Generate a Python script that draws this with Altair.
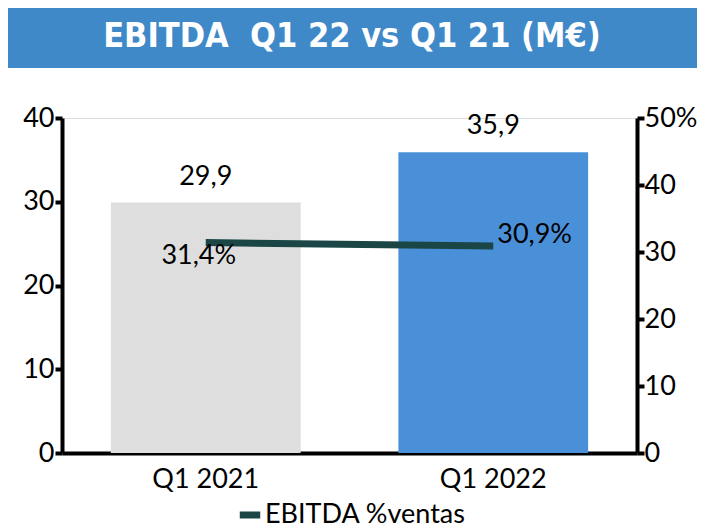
import altair as alt
import pandas as pd

categories = ["Q1 2021", "Q1 2022"]
ebitda = [29.9, 35.9]
margin_pct = [31.4, 30.9]
bar_colors = ["#DEDEDE", "#4A90D9"]
series_name = "EBITDA %ventas"
title_text = "EBITDA\u00a0 Q1 22 vs Q1 21 (M€)"

df = pd.DataFrame({
    "cat": categories,
    "val": ebitda,
    "pct": margin_pct,
    "color": bar_colors,
    "series": [series_name] * len(categories),
})

FONT = "Lato"
FS = 27
x = alt.X("cat:N", sort=categories, title=None,
          scale=alt.Scale(paddingInner=0.34, paddingOuter=0.17),
          axis=alt.Axis(labelAngle=0, labelFontSize=FS, labelColor="black", labelFont=FONT,
                        ticks=False, domainColor="black", domainWidth=4, labelPadding=13))

base = alt.Chart(df)

bars = base.mark_bar().encode(
    x=x,
    y=alt.Y("val:Q", title=None, scale=alt.Scale(domain=[0, 40]),
            axis=alt.Axis(values=[0, 10, 20, 30, 40], grid=False, domainColor="black", domainWidth=4,
                          tickColor="black", tickWidth=4, tickSize=7, labelFontSize=FS,
                          labelColor="black", labelFont=FONT, labelPadding=1)),
    color=alt.Color("color:N", scale=None),
)

bar_labels = base.mark_text(baseline="bottom", dy=-12, fontSize=FS, font=FONT, color="black").transform_calculate(
    lbl="replace(format(datum.val, '.1f'), '.', ',')"
).encode(x=x, y=alt.Y("val:Q"), text="lbl:N")

left = alt.layer(bars, bar_labels)

yr = alt.Y("pct:Q", title=None, scale=alt.Scale(domain=[0, 50]),
           axis=alt.Axis(orient="right", values=[0, 10, 20, 30, 40, 50], grid=False,
                         domainColor="black", domainWidth=4, tickColor="black", tickWidth=4,
                         tickSize=7, labelFontSize=FS, labelColor="black", labelFont=FONT,
                         labelPadding=0, labelExpr="datum.value == 50 ? '50%' : datum.label"))

line = base.mark_line(strokeWidth=7).encode(
    x=x, y=yr,
    color=alt.Color("series:N", scale=alt.Scale(range=["#1A4646"]),
                    legend=alt.Legend(title=None, orient="none", legendX=174, legendY=383,
                                      labelFontSize=FS, labelFont=FONT, labelColor="black",
                                      labelLimit=500, symbolType="stroke", symbolStrokeWidth=7,
                                      symbolSize=420, labelOffset=1)),
)

pct_lbl = "replace(format(datum.pct, '.1f'), '.', ',') + '%'"
lab1 = base.transform_filter(alt.datum.cat == categories[0]).transform_calculate(lbl=pct_lbl).mark_text(
    dx=-7, dy=13, fontSize=FS, font=FONT, color="black").encode(x=x, y=alt.Y("pct:Q"), text="lbl:N")
lab2 = base.transform_filter(alt.datum.cat == categories[1]).transform_calculate(lbl=pct_lbl).mark_text(
    align="left", dx=4, dy=-11, fontSize=FS, font=FONT, color="black").encode(x=x, y=alt.Y("pct:Q"), text="lbl:N")

right = alt.layer(line, lab1, lab2)

title_bg = alt.Chart(pd.DataFrame({"t": [title_text]})).mark_rect(color="#3F89C9").encode(
    x=alt.value(-56), x2=alt.value(635), y=alt.value(-114), y2=alt.value(-50))
title_txt = alt.Chart(pd.DataFrame({"t": [title_text]})).mark_text(
    color="white", fontSize=34, fontWeight="bold", font="DejaVu Sans Condensed, DejaVu Sans, sans-serif",
    align="center", baseline="middle"
).encode(x=alt.value(290), y=alt.value(-81), text="t:N")

chart = alt.layer(left, right, title_bg, title_txt).resolve_scale(y="independent", color="independent").properties(
    width=575, height=335,
    autosize=alt.AutoSizeParams(type="none"),
    padding={"left": 54, "top": 110, "right": 61, "bottom": 77},
).configure_view(stroke="transparent", strokeWidth=0).configure(background="white")

chart.save("out.html", embed_options={"renderer": "svg", "actions": False})
